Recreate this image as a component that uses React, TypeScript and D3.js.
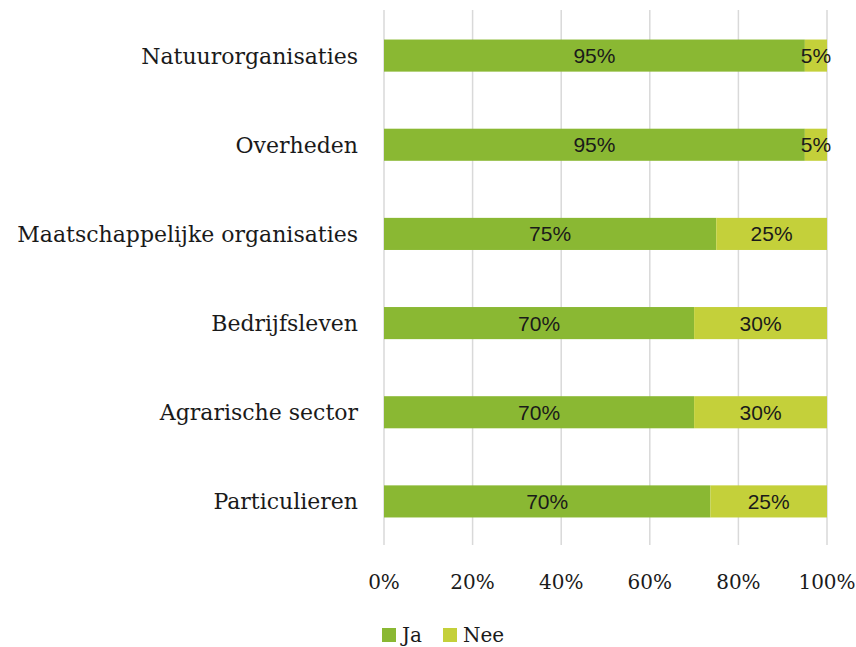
import React from "react";
import * as d3 from "d3";

const categories = [
  "Natuurorganisaties",
  "Overheden",
  "Maatschappelijke organisaties",
  "Bedrijfsleven",
  "Agrarische sector",
  "Particulieren",
];
const ja = [95, 95, 75, 70, 70, 70];
const nee = [5, 5, 25, 30, 30, 25];
const seriesNames = ["Ja", "Nee"];
const ticks = [0, 0.2, 0.4, 0.6, 0.8, 1];

const colors = ["#8AB833", "#C4D03A"];
const slab = "'DejaVu Serif', serif";
const sans = "'Liberation Sans', Arial, sans-serif";

export default function App() {
  const W = 856, H = 647;
  const x = d3.scaleLinear().domain([0, 1]).range([384, 827]);
  const y = d3.scaleBand().domain(categories).range([11, 546]).paddingInner(0.64).paddingOuter(0.32);
  const rows = categories.map((c, i) => ({ cat: c, Ja: ja[i], Nee: nee[i] }));
  const stack = d3.stack<any>().keys(seriesNames).offset(d3.stackOffsetExpand);
  const series = stack(rows);
  const fmt = d3.format(".0%");

  return (
    <svg width={W} height={H} style={{ position: "absolute", left: 0, top: 0 }}>
      <rect width={W} height={H} fill="#fff" />
      {ticks.map((t) => (
        <line key={t} x1={x(t)} x2={x(t)} y1={10} y2={545} stroke="#D9D9D9" strokeWidth={1.5} />
      ))}
      {series.map((s, si) =>
        s.map((d, i) => (
          <rect
            key={si + "-" + i}
            x={x(d[0])}
            width={x(d[1]) - x(d[0])}
            y={y(categories[i])}
            height={y.bandwidth()}
            fill={colors[si]}
          />
        ))
      )}
      {series.map((s, si) =>
        s.map((d, i) => (
          <text
            key={"l" + si + "-" + i}
            x={(x(d[0]) + x(d[1])) / 2}
            y={y(categories[i])! + y.bandwidth() / 2}
            dy="0.36em"
            textAnchor="middle"
            fontFamily={sans}
            fontSize={21}
            fill="#1a1a1a"
          >
            {(si === 0 ? ja[i] : nee[i]) + "%"}
          </text>
        ))
      )}
      {categories.map((c) => (
        <text
          key={c}
          x={358}
          y={y(c)! + y.bandwidth() / 2}
          dy="0.36em"
          textAnchor="end"
          fontFamily={slab}
          fontSize={22}
          fill="#1a1a1a"
        >
          {c}
        </text>
      ))}
      {ticks.map((t) => (
        <text
          key={"t" + t}
          x={x(t)}
          y={582}
          dy="0.36em"
          textAnchor="middle"
          fontFamily={slab}
          fontSize={20}
          fill="#1a1a1a"
        >
          {fmt(t)}
        </text>
      ))}
      {seriesNames.map((n, i) => (
        <g key={n} transform={`translate(${i === 0 ? 382 : 443},628)`}>
          <rect width={14} height={14} fill={colors[i]} />
          <text x={20} y={7} dy="0.36em" fontFamily={slab} fontSize={20} fill="#1a1a1a">
            {n}
          </text>
        </g>
      ))}
    </svg>
  );
}
